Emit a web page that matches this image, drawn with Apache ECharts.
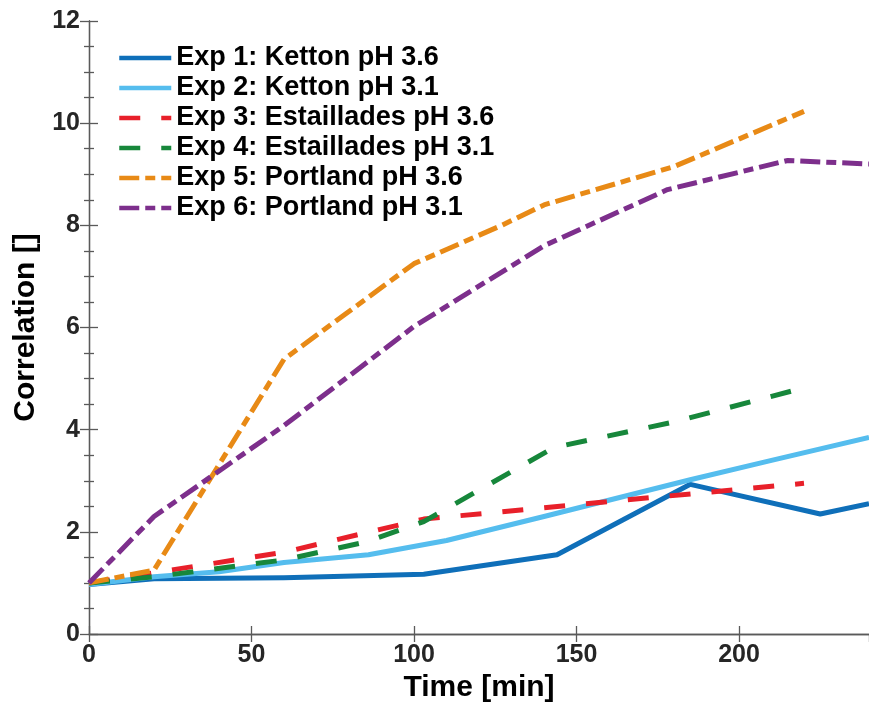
<!DOCTYPE html>
<html>
<head>
<meta charset="utf-8">
<script src="https://cdn.jsdelivr.net/npm/echarts@6/dist/echarts.min.js"></script>
<style>
  html, body { margin: 0; padding: 0; background: #fff; }
  #chart { width: 869px; height: 709px; }
</style>
</head>
<body>
<div id="chart"></div>
<script>
// values: time [min] and correlation []
const exp1Time = [0, 20, 60, 103, 144, 185, 225, 240];
const exp1Corr = [0.97, 1.08, 1.1, 1.17, 1.55, 2.93, 2.35, 2.55];

const exp2Time = [0, 20, 40, 60, 86, 110, 140, 185, 210, 240];
const exp2Corr = [0.97, 1.12, 1.22, 1.4, 1.55, 1.83, 2.3, 3.02, 3.4, 3.85];

const exp3Time = [0, 20, 60, 103, 140, 178, 220];
const exp3Corr = [1.0, 1.2, 1.6, 2.25, 2.47, 2.7, 2.95];

const exp4Time = [0, 20, 60, 85, 103, 143, 180, 220];
const exp4Corr = [1.0, 1.12, 1.45, 1.8, 2.2, 3.65, 4.15, 4.82];

const exp5Time = [0, 20, 60, 100, 127, 140, 180, 220];
const exp5Corr = [1.0, 1.25, 5.38, 7.25, 8.0, 8.4, 9.15, 10.23];

const exp6Time = [0, 20, 60, 100, 140, 178, 215, 240];
const exp6Corr = [1.0, 2.3, 4.08, 6.02, 7.6, 8.7, 9.27, 9.2];

const seriesNames = [
    "Exp 1: Ketton pH 3.6",
    "Exp 2: Ketton pH 3.1",
    "Exp 3: Estaillades pH 3.6",
    "Exp 4: Estaillades pH 3.1",
    "Exp 5: Portland pH 3.6",
    "Exp 6: Portland pH 3.1"
];

const xTicks = [0, 50, 100, 150, 200];
const yTicks = [0, 2, 4, 6, 8, 10, 12];

const FONT = "'Liberation Sans', Arial, Helvetica, sans-serif";
const AXIS_COLOR = "#5a5a5a";
const TEXT_COLOR = "#262626";

const DASHED = [21, 21];
const DASH_DOT = [20, 6, 10, 6];

function pairs(xs, ys) {
    return xs.map((x, i) => [x, ys[i]]);
}

function makeLine(name, xs, ys, color, dash) {
    return {
        name: name,
        type: "line",
        data: pairs(xs, ys),
        symbol: "none",
        showSymbol: false,
        smooth: false,
        lineStyle: {
            color: color,
            width: 5,
            type: dash,
            cap: "butt",
            join: "round"
        },
        itemStyle: { color: color },
        emphasis: { disabled: true },
        animation: false
    };
}

const chart = echarts.init(document.getElementById("chart"));

chart.setOption({
    animation: false,
    backgroundColor: "#fff",
    grid: {
        left: 89,
        top: 21,
        right: -8,
        bottom: 75,
        containLabel: false
    },
    legend: {
        orient: "vertical",
        left: 117,
        top: 43,
        padding: 0,
        itemGap: 0,
        itemWidth: 52,
        itemHeight: 14,
        itemStyle: { opacity: 0 },
        lineStyle: { width: 4.5 },
        textStyle: {
            fontFamily: FONT,
            fontWeight: "bold",
            fontSize: 27,
            color: "#000",
            lineHeight: 30
        },
        data: seriesNames
    },
    xAxis: [
        {
            type: "value",
            position: "bottom",
            min: 0,
            max: 240,
            interval: 50,
            name: "Time [min]",
            nameLocation: "middle",
            nameGap: 36,
            nameTextStyle: {
                fontFamily: FONT,
                fontWeight: "bold",
                fontSize: 30,
                color: "#000"
            },
            axisLine: { show: true, lineStyle: { color: AXIS_COLOR, width: 1.3 } },
            axisTick: { show: true, inside: true, length: 8, lineStyle: { color: AXIS_COLOR, width: 1.3 } },
            axisLabel: {
                margin: 9,
                showMaxLabel: false,
                fontFamily: FONT,
                fontWeight: "bold",
                fontSize: 25,
                color: TEXT_COLOR,
                formatter: v => (xTicks.includes(v) ? String(v) : "")
            },
            splitLine: { show: false }
        },
        {
            type: "value",
            position: "top",
            min: 0,
            max: 240,
            interval: 50,
            axisLine: { show: true, lineStyle: { color: AXIS_COLOR, width: 1.3 } },
            axisTick: { show: true, inside: true, length: 8, lineStyle: { color: AXIS_COLOR, width: 1.3 } },
            axisLabel: { show: false },
            splitLine: { show: false }
        }
    ],
    yAxis: [
        {
            type: "value",
            position: "left",
            min: 0,
            max: 12,
            interval: 2,
            name: "Correlation []",
            nameLocation: "middle",
            nameRotate: 90,
            nameGap: 48,
            nameTextStyle: {
                fontFamily: FONT,
                fontWeight: "bold",
                fontSize: 30,
                color: "#000"
            },
            axisLine: { show: true, lineStyle: { color: AXIS_COLOR, width: 1.3 } },
            axisTick: { show: true, inside: true, length: 9, lineStyle: { color: AXIS_COLOR, width: 1.3 } },
            minorTick: { show: true, splitNumber: 4, length: 5, lineStyle: { color: AXIS_COLOR, width: 1.3 } },
            axisLabel: {
                margin: 9,
                fontFamily: FONT,
                fontWeight: "bold",
                fontSize: 25,
                color: TEXT_COLOR,
                formatter: v => (yTicks.includes(v) ? String(v) : "")
            },
            splitLine: { show: false },
            minorSplitLine: { show: false }
        },
        {
            type: "value",
            position: "right",
            min: 0,
            max: 12,
            interval: 2,
            axisLine: { show: true, lineStyle: { color: AXIS_COLOR, width: 1.3 } },
            axisTick: { show: true, inside: true, length: 9, lineStyle: { color: AXIS_COLOR, width: 1.3 } },
            minorTick: { show: true, splitNumber: 4, length: 5, lineStyle: { color: AXIS_COLOR, width: 1.3 } },
            axisLabel: { show: false },
            splitLine: { show: false }
        }
    ],
    series: [
        makeLine(seriesNames[0], exp1Time, exp1Corr, "#0f6fb9", "solid"),
        makeLine(seriesNames[1], exp2Time, exp2Corr, "#55bdee", "solid"),
        makeLine(seriesNames[2], exp3Time, exp3Corr, "#e8202a", DASHED),
        makeLine(seriesNames[3], exp4Time, exp4Corr, "#17873b", DASHED),
        makeLine(seriesNames[4], exp5Time, exp5Corr, "#e88a16", DASH_DOT),
        makeLine(seriesNames[5], exp6Time, exp6Corr, "#7d2f8c", DASH_DOT)
    ]
});
</script>
</body>
</html>
